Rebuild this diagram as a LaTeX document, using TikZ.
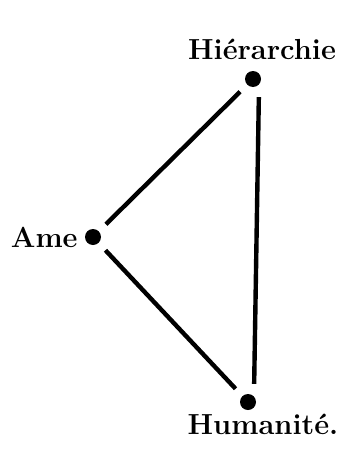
\documentclass[tikz,border=0pt]{standalone}
\usepackage{fontspec}
\usetikzlibrary{positioning}

\begin{document}
\begin{tikzpicture}[
  x=1pt, y=-1pt,
  font=\fontsize{29}{34}\selectfont\bfseries,
  point/.style={circle, fill=black, inner sep=0pt, minimum size=16pt},
  term/.style={inner sep=0pt},
  link/.style={line width=4.4pt, shorten >=10pt, shorten <=10pt}
]
\useasboundingbox (0,0) rectangle (357,455);
\node[point] (hier) at (253,79) {};
\node[point] (ame) at (93,237) {};
\node[point] (huma) at (248,402) {};
\node[term, above=11pt of hier, xshift=9pt] (hierlbl) {Hiérarchie};
\node[term, left=7pt of ame] (amelbl) {Ame};
\node[term, below=4pt of huma, xshift=15pt] (humalbl) {Humanité.};
\draw[link] (hier) -- (ame);
\draw[link] (ame) -- (huma);
\draw[link] ([xshift=6pt]hier.south) -- ([xshift=6pt]huma.north);
\end{tikzpicture}
\end{document}
